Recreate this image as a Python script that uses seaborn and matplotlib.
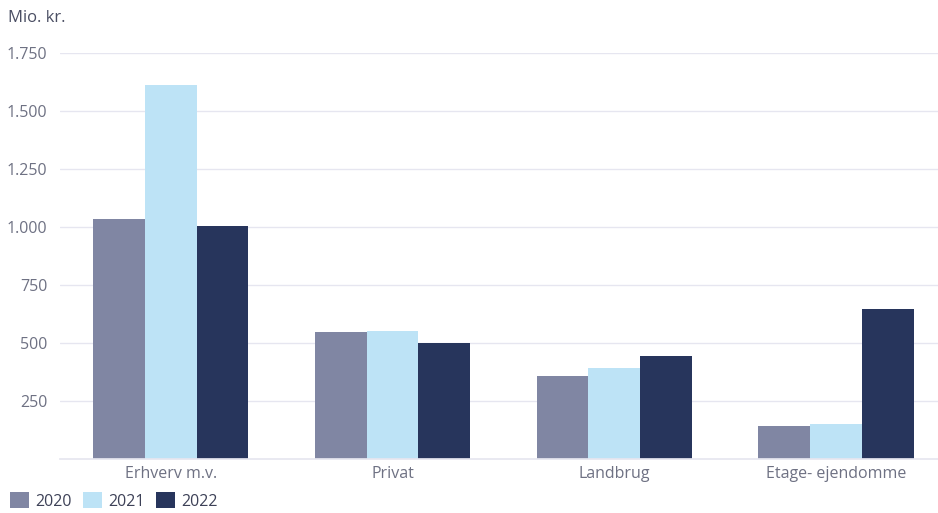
import matplotlib
matplotlib.use("Agg")
import matplotlib.pyplot as plt
import seaborn as sns
import pandas as pd
from matplotlib.patches import Patch

categories = ["Erhverv m.v.", "Privat", "Landbrug", "Etage- ejendomme"]
years = ["2020", "2021", "2022"]
v2020 = [1035, 548, 358, 144]
v2021 = [1612, 553, 392, 150]
v2022 = [1005, 500, 444, 647]
yticks = [250, 500, 750, 1000, 1250, 1500, 1750]
ytick_labels = ["250", "500", "750", "1.000", "1.250", "1.500", "1.750"]
colors = ["#8086A3", "#BDE3F6", "#27355C"]

rows = []
for y, vals in zip(years, [v2020, v2021, v2022]):
    for c, v in zip(categories, vals):
        rows.append({"cat": c, "year": y, "value": v})
df = pd.DataFrame(rows)

sns.set_theme(style="white")
plt.rcParams["font.family"] = ["Open Sans", "DejaVu Sans"]
text_color = "#6E7183"

fig = plt.figure(figsize=(9.38, 5.13), dpi=100)
ax = fig.add_axes([60/938, 1 - 459/513, 1 - 60/938, (459 - 53)/513])
sns.barplot(data=df, x="cat", y="value", hue="year", palette=colors,
            width=0.70, saturation=1, linewidth=0, ax=ax, legend=False)
ax.set_xlim(-0.5, 3.46)
ax.set_ylim(0, 1750)
ax.set_yticks(yticks)
ax.set_yticklabels(ytick_labels)
ax.yaxis.grid(True, color="#E6E6F0", linewidth=1)
ax.set_axisbelow(True)
for s in ["top", "right", "left"]:
    ax.spines[s].set_visible(False)
ax.spines["bottom"].set_color("#E6E6F0")
ax.set_xlabel("")
ax.set_ylabel("")
ax.tick_params(axis="both", length=0, colors=text_color, labelsize=11.5)
ax.tick_params(axis="y", pad=9)
ax.tick_params(axis="x", pad=5)

fig.text(8/938, 1 - 18/513, "Mio. kr.", fontsize=12, color="#4A4E63", va="center", ha="left")

handles = [Patch(facecolor=c, edgecolor="none") for c in colors]
fig.legend(handles, years, loc="lower left", bbox_to_anchor=(0.0, -0.012), ncol=3, frameon=False,
           fontsize=11.5, handlelength=1.2, handleheight=1.2, handletextpad=0.4,
           columnspacing=0.7, labelcolor="#3D4157", borderaxespad=0.2)

fig.savefig("out.png", dpi=100)
